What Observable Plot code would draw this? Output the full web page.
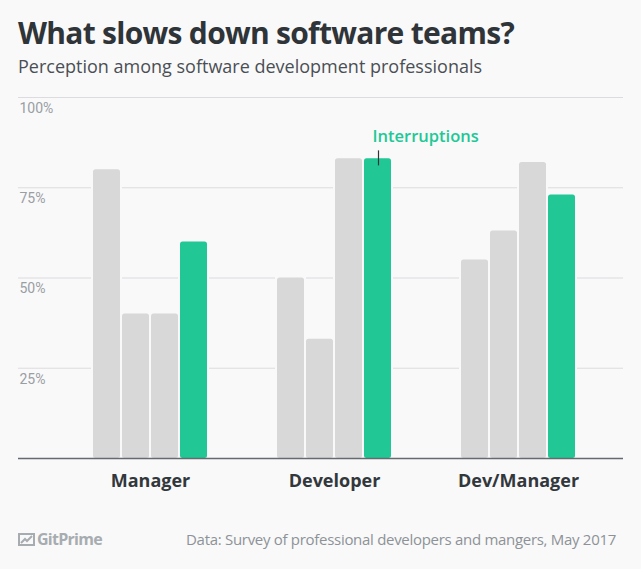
<!DOCTYPE html>
<html>
<head>
<meta charset="utf-8">
<script src="https://cdn.jsdelivr.net/npm/d3@7"></script>
<script src="https://cdn.jsdelivr.net/npm/@observablehq/plot@0.6"></script>
<style>
  html, body { margin: 0; padding: 0; }
  body { width: 641px; height: 569px; background: #f9f9f9; position: relative; overflow: hidden; font-family: "Open Sans", sans-serif; }
  #title { position: absolute; left: 18px; top: 17.7px; font-size: 30px; line-height: 30px; font-weight: 700; color: #2f3439; white-space: nowrap; }
  #subtitle { position: absolute; left: 18px; top: 56.7px; font-size: 18px; line-height: 18px; font-weight: 400; color: #4a4f55; white-space: nowrap; }
  #chart { position: absolute; left: 0; top: 88px; }
  #logo { position: absolute; left: 18px; top: 531px; display: flex; align-items: center; color: #a7acb1; font-weight: 700; font-size: 16px; line-height: 16px; }
  #caption { position: absolute; right: 25px; top: 531.7px; font-size: 15px; line-height: 15px; color: #8d9298; white-space: nowrap; }
</style>
</head>
<body>
<div id="title">What slows down software teams?</div>
<div id="subtitle">Perception among software development professionals</div>
<div id="chart"></div>
<div id="logo"><svg width="17" height="13" viewBox="0 0 17 13" style="margin-right:2px"><rect x="1" y="1" width="15" height="11" fill="none" stroke="#a7acb1" stroke-width="2"/><path d="M3 10 L7 6 L9 8 L14 3" fill="none" stroke="#a7acb1" stroke-width="2"/></svg><span id="logotext">GitPrime</span></div>
<div id="caption">Data: Survey of professional developers and mangers, May 2017</div>
<script>
const groups = ["Manager", "Developer", "Dev/Manager"];
const series = ["Other factor 1", "Other factor 2", "Other factor 3", "Interruptions"];
const managerValues = [80, 40, 40, 60];
const developerValues = [50, 33, 83, 83];
const devManagerValues = [55, 63, 82, 73];
const yTicks = [25, 50, 75, 100];
const highlight = "Interruptions";

const valuesByGroup = [managerValues, developerValues, devManagerValues];
const data = [];
groups.forEach((g, gi) => series.forEach((s, si) => data.push({group: g, series: s, value: valuesByGroup[gi][si]})));

const bg = "#f9f9f9";
const green = "#21c896";
const gray = "#d8d8d8";
const pitch = 29;

const halos = series.map((s, i) => Plot.barY(data.filter(d => d.series === s), {
  x: "group", y: "value", fill: bg,
  insetLeft: i * pitch - 2, insetRight: (series.length - 1 - i) * pitch - 2, insetTop: -2
}));
const bars = series.map((s, i) => Plot.barY(data.filter(d => d.series === s), {
  x: "group", y: "value", fill: s === highlight ? green : gray, rx: 2.5,
  insetLeft: i * pitch, insetRight: (series.length - 1 - i) * pitch
}));
const hiData = data.filter(d => d.series === highlight && d.group === "Developer");
const hiOffset = (series.length - 1) * pitch / 2 + 0.5;

const chart = Plot.plot({
  width: 641,
  height: 412,
  marginLeft: 18,
  marginRight: 18,
  marginTop: 9,
  marginBottom: 42,
  style: {background: "transparent", fontFamily: "Open Sans, sans-serif", overflow: "visible"},
  x: {domain: groups, range: [58, 610], paddingInner: 0.3804, paddingOuter: 0.1902, axis: null},
  y: {domain: [0, 100], axis: null},
  marks: [
    Plot.ruleY(yTicks, {stroke: "#dcdce0", strokeWidth: 1.2}),
    Plot.axisY(yTicks, {label: null, tickSize: 0, tickPadding: 0, dx: 1, dy: 11, textAnchor: "start", tickFormat: d => d + "%", fontSize: 14, fill: "#999ea4", fontFamily: "Roboto, sans-serif"}),
    ...halos,
    ...bars,
    Plot.ruleY([0], {stroke: "#666a6e", strokeWidth: 1.5}),
    Plot.axisX({label: null, tickSize: 0, tickPadding: 16, fontSize: 18, fontWeight: "bold", fill: "#32373c"}),
    Plot.ruleX(hiData, {x: "group", y1: "value", y2: "value", dx: hiOffset, insetTop: -8, insetBottom: -7, stroke: "#333", strokeWidth: 1.2}),
    Plot.text(hiData, {x: "group", y: "value", text: "series", dx: hiOffset - 6, dy: -16.7, lineAnchor: "bottom", textAnchor: "start", fill: green, fontSize: 16.5, fontWeight: 600})
  ]
});
document.getElementById("chart").appendChild(chart);

// fit text widths to the reference by adjusting letter spacing
function fit(id, target) {
  const el = document.getElementById(id);
  const w = el.getBoundingClientRect().width;
  const n = el.textContent.length;
  el.style.letterSpacing = ((target - w) / n) + "px";
}
fit("title", 496);
fit("caption", 430);
fit("logotext", 65);
</script>
</body>
</html>
